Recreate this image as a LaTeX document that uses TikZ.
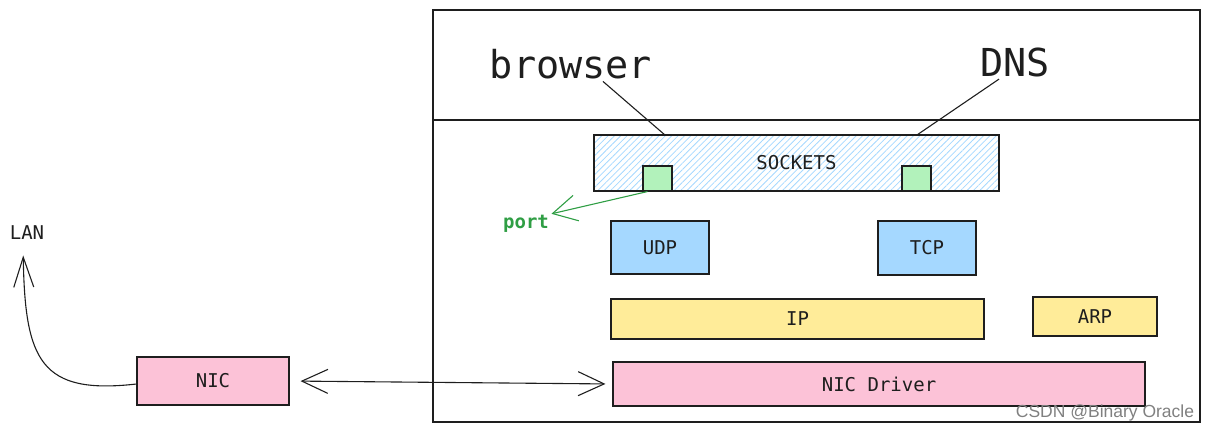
\documentclass[tikz,border=0pt]{standalone}
\usepackage{fontspec}
\setmonofont{DejaVu Sans Mono}
\newfontfamily\markfont{Liberation Sans}
\usepackage{tikz}
\usetikzlibrary{positioning}
\usetikzlibrary{arrows.meta,calc,patterns.meta}
\definecolor{ink}{HTML}{1E1E1E}
\definecolor{hatch}{HTML}{A5D8FF}
\definecolor{udpblue}{HTML}{A5D8FF}
\definecolor{portgreen}{HTML}{B2F2BB}
\definecolor{portink}{HTML}{2F9E44}
\definecolor{ipyellow}{HTML}{FFEC99}
\definecolor{nicpink}{HTML}{FCC2D7}
\tikzset{
    netstack/.style={x=1pt,y=-1pt,line width=1.1pt,draw=ink},
    layer/.style={rectangle,draw=ink,line width=1.1pt,inner sep=0pt,text=ink,
                  font=\ttfamily\fontsize{19}{22}\selectfont},
    sock/.style={layer,pattern={Lines[angle=45,distance=4.5pt,line width=0.8pt]},
                 pattern color=hatch},
    portbox/.style={layer,fill=portgreen,minimum width=29pt,minimum height=25pt},
    bigword/.style={inner sep=2pt,text=ink,font=\ttfamily\fontsize{38.5}{44}\selectfont},
    smallword/.style={inner sep=2pt,text=ink,font=\ttfamily\fontsize{19}{22}\selectfont},
    barb/.style={line width=1.1pt,draw=ink},
    }

\begin{document}
\begin{tikzpicture}[netstack]
            \useasboundingbox (0,0) rectangle (1211,432);
            % host frame and the user/kernel split
            \draw[line width=1.1pt] (433,10) rectangle (1200,422);
            \draw[line width=1.1pt] (433,120) -- (1200,120);

            \node[bigword] (browser) at (571,64) {browser};
            \node[bigword] (dns) at (1015,62) {DNS};

            \node[sock, minimum width=405pt, minimum height=56pt] (sockets) at (796.5,163) {SOCKETS};
            \node[portbox] (portL) at (657.5,178.5) {};
            \node[portbox] (portR) at (916.5,178.5) {};
            \node[smallword, text=portink, font=\ttfamily\bfseries\fontsize{19}{22}\selectfont] (port) at (526,224) {port};

            \node[layer, fill=udpblue, minimum width=98pt, minimum height=53pt] (udp) at (660,247.5) {UDP};
            \node[layer, fill=udpblue, minimum width=98pt, minimum height=54pt] (tcp) at (927,248) {TCP};
            \node[layer, fill=ipyellow, minimum width=373pt, minimum height=40pt] (ip) at (797.5,319) {IP};
            \node[layer, fill=ipyellow, minimum width=124pt, minimum height=39pt] (arp) at (1095,316.5) {ARP};
            \node[layer, fill=nicpink, minimum width=532pt, minimum height=44pt] (driver) at (879,384) {NIC Driver};

            \node[layer, fill=nicpink, minimum width=152pt, minimum height=48pt] (nic) at (213,381) {NIC};
            \node[smallword] (lan) at (27,233) {LAN};

            \node[inner sep=0pt, text=black!50, font=\markfont\fontsize{17.5}{20}\selectfont] (mark) at (1105,413) {CSDN @Binary Oracle};

            \draw[barb] ([xshift=32pt]browser.south) -- ([xshift=-132pt]sockets.north);
            \draw[barb] ([xshift=-16pt]dns.south) -- ([xshift=121pt]sockets.north);

            \path[->, >={Straight Barb[length=24pt,width=26pt]}] ([xshift=-10pt]portL.south) edge[draw=portink, line width=1.1pt] ([yshift=-1pt]port.north east);

            \path[<->, >={Straight Barb[length=26pt,width=24pt]}] (nic.east) edge[barb, shorten <=11pt, shorten >=7pt] (driver.west);

            \draw[->, barb, >={Straight Barb[length=30pt,width=20pt]}, shorten >=13pt]
                ([yshift=-3pt]nic.west) .. controls (40,395) and (25,360) .. ([xshift=-4pt]lan.south);
        \end{tikzpicture}
\end{document}
